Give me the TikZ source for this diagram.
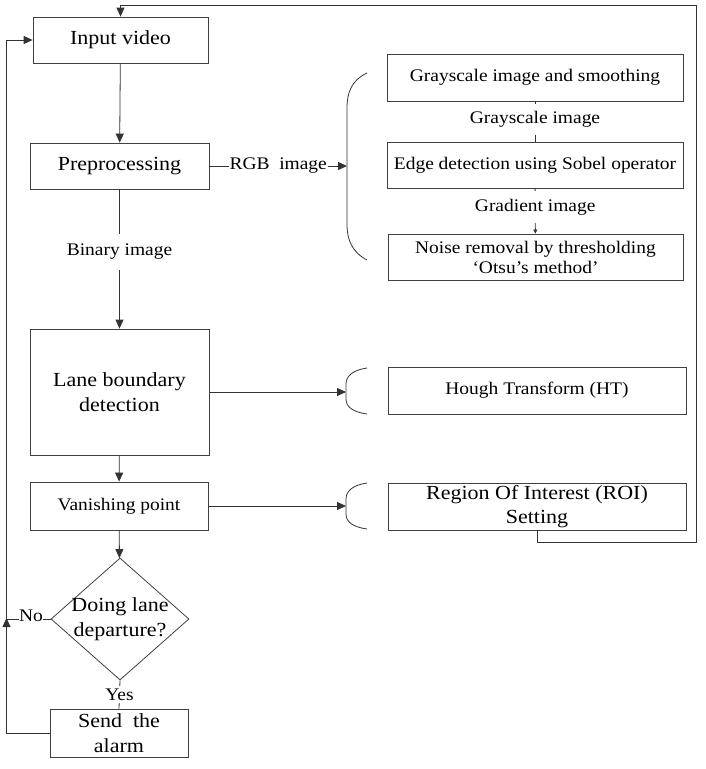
\documentclass[tikz,border=0pt]{standalone}
\usepackage{fontspec}
\setmainfont{Liberation Serif}[FakeStretch=1.1]
\usetikzlibrary{arrows.meta,shapes.geometric}
\begin{document}
\begin{tikzpicture}[x=1pt,y=-1pt,
  box/.style={draw=black!75, line width=0.8pt, rectangle, inner sep=0pt, align=center, text=black},
  big/.style={font=\fontsize{20}{24.5}\selectfont},
  small/.style={font=\fontsize{17.7}{20}\selectfont},
  lbl/.style={small, fill=white, inner sep=1pt, text=black},
  conn/.style={draw=black!80, line width=0.8pt},
  arr/.style={conn, -{Triangle[length=9pt,width=8pt]}},
  sarr/.style={conn, -{Triangle[length=4pt,width=4pt]}}]
\useasboundingbox (0,0) rectangle (705,769);

% left column
\node[box,big,minimum width=175pt,minimum height=46pt] (inp) at (120.5,40) {Input video};
\node[box,big,minimum width=179pt,minimum height=46pt] (pre) at (119.5,166) {Preprocessing};
\node[box,big,minimum width=179pt,minimum height=126pt] (lane) at (119.5,392) {Lane boundary\\detection};
\node[box,small,minimum width=178pt,minimum height=48pt] (van) at (119,506) {Vanishing point};
\node[diamond,draw=black!75,line width=0.8pt,minimum width=138pt,minimum height=122pt,inner sep=0pt] (dia) at (120,619) {};
\node[big,align=center,inner sep=0pt] (diat) at (dia.center) {Doing lane\\departure?};
\node[box,big,minimum width=138pt,minimum height=48pt] (alarm) at (119,733) {Send~ the\\alarm};

% right column
\node[box,small,minimum width=296pt,minimum height=47pt] (gray) at (535,77.5) {Grayscale image and smoothing};
\node[box,small,minimum width=296pt,minimum height=46pt] (edge) at (535,165) {Edge detection using Sobel operator};
\node[box,small,minimum width=295pt,minimum height=46pt] (noise) at (535.5,257) {Noise removal by thresholding\\‘Otsu’s method’};
\node[box,small,minimum width=298pt,minimum height=47pt] (hough) at (537,390.5) {Hough Transform (HT)};
\node[box,big,minimum width=298pt,minimum height=47pt] (roi) at (537,506.5) {Region Of Interest (ROI)\\Setting};

% braces
\coordinate (bbt) at (347,166);
\coordinate (hbt) at (346,392);
\coordinate (rbt) at (346,506);
\draw[conn] (367,73) .. controls (352,80) and (347,92) .. (347,108) -- (347,224) .. controls (347,240) and (352,252) .. (367,260);
\draw[conn] (367,368) .. controls (353,370) and (346,376) .. (346,384) -- (346,399) .. controls (346,407) and (353,412) .. (367,414);
\draw[conn] (367,483) .. controls (353,485) and (346,491) .. (346,499) -- (346,514) .. controls (346,522) and (353,527) .. (367,529);

% main flow
\draw[arr] (inp) -- (pre);
\draw[arr] (pre) -- node[lbl,inner ysep=10pt,pos=0.45] {Binary image} (lane);
\draw[arr] (lane) -- (van);
\draw[arr] (van) -- (dia);
\draw[conn] (dia.south) -- node[lbl,inner ysep=3pt,pos=0.5] {Yes} (alarm.north);

% No branch and loop back
\coordinate (l1) at (6.5,733);
\coordinate (l2) at (6.5,40);
\coordinate (nj) at (6.5,618);
\coordinate (na) at (6.5,628);
\draw[arr] (alarm.west) -- (l1) -- (l2) -- (inp.west);
\draw[conn] (dia.west) -- (6.5,619);
\node[lbl,inner sep=0.5pt,anchor=south] (no) at (31,622) {No};
\draw[arr] (na) -- (nj);

% RGB image
\draw[arr] (pre.east) -- node[lbl,pos=0.5] {RGB~~image} (bbt);

% right chain
\draw[conn] (gray) -- node[lbl,inner ysep=7pt,pos=0.45] {Grayscale image} (edge);
\draw[sarr] (edge) -- node[lbl,inner ysep=8pt,pos=0.42] {Gradient image} (noise);

% to lower braces
\draw[arr] (lane.east) -- (hbt);
\draw[arr] (van.east) -- (rbt);

% feedback loop from ROI
\coordinate (f1) at (537,542);
\coordinate (f2) at (696,542);
\coordinate (f3) at (696,5);
\coordinate (f4) at (120.5,5);
\draw[arr] (roi.south) -- (f1) -- (f2) -- (f3) -- (f4) -- (inp.north);
\end{tikzpicture}
\end{document}
